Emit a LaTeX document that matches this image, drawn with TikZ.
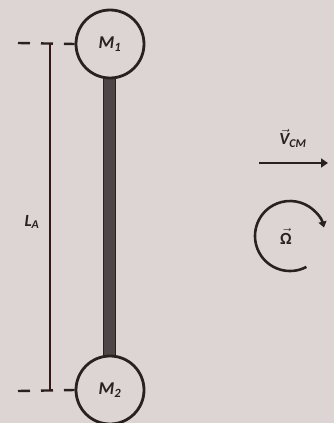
\documentclass[tikz,border=0pt]{standalone}
\usepackage{amsmath}
\usepackage{fontspec}
\setmainfont{Carlito}
\usetikzlibrary{arrows.meta}
\definecolor{bg}{HTML}{DDD5D4}
\definecolor{ink}{HTML}{2A2020}
\definecolor{rodfill}{HTML}{4E4646}
\newcommand{\bivec}[1]{$\vec{\text{#1}}$}
\begin{document}
\begin{tikzpicture}[x=1pt,y=-1pt,
  mass/.style={circle,draw=ink,line width=2.8pt,minimum size=68pt,inner sep=0pt,fill=bg},
  lbl/.style={text=ink,font=\fontsize{18}{20}\selectfont\bfseries\itshape},
  ln/.style={draw=ink,line width=2.3pt},
  dashref/.style={draw=ink,line width=2.4pt,dash pattern=on 12pt off 11pt}]
\fill[bg] (0,0) rectangle (334,423);
\useasboundingbox (0,0) rectangle (334,423);
% rod
\node[draw=ink,line width=1.6pt,fill=rodfill,minimum width=12pt,minimum height=282pt,inner sep=0pt] (rod) at (109.5,217) {};
\node[mass] (m1) at (110,44) {};
\node[mass] (m2) at (110,390) {};
\node[lbl] at (m1) {M\textsubscript{1}};
\node[lbl] at (m2) {M\textsubscript{2}};
% dashed reference lines
\coordinate (t0) at (18,43);
\coordinate (b0) at (18,391);
\draw[dashref] (t0) -- (m1.west);
\draw[dashref] (b0) -- (m2.west);
\coordinate (lt) at (50,43);
\coordinate (lb) at (50,391);
\draw[ln,draw={rgb,255:red,55;green,22;blue,22}] (lt) -- (lb);
\node[lbl,font=\fontsize{17}{19}\selectfont\bfseries\itshape] (la) at (32,222) {L\textsubscript{A}};
% velocity
\coordinate (v0) at (259,163);
\coordinate (v1) at (328,163);
\draw[ln,line width=2.8pt,-{Triangle[length=7pt,width=9pt]}] (v0) -- (v1);
\node[lbl,font=\fontsize{17}{19}\selectfont\bfseries\itshape] (vcm) at (293,138) {\bivec{V}\textsubscript{CM}};
% rotation
\coordinate (oc) at (290,236);
\node[lbl,font=\fontsize{17}{19}\selectfont\bfseries] (om) at (286,236) {\bivec{Ω}};
\draw[ln,line width=2.6pt,-{Triangle[length=6pt,width=8pt]}] ([shift={(-62:35pt)}]oc) arc[start angle=-62,end angle=-346,radius=35pt];
\end{tikzpicture}
\end{document}
